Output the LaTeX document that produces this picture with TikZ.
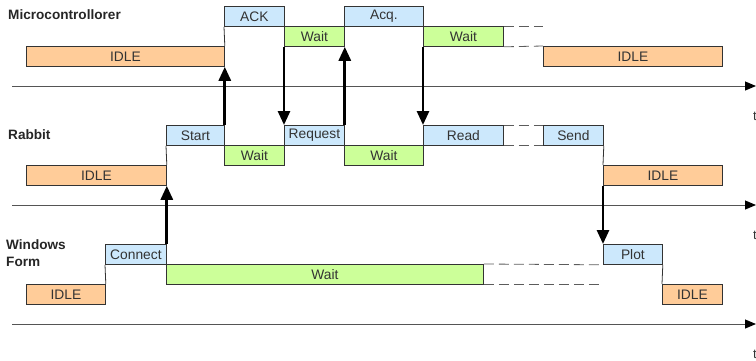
\documentclass[tikz,border=0pt]{standalone}
\usepackage{fontspec}
\setmainfont{Liberation Sans}
\usetikzlibrary{arrows.meta}
\definecolor{idlefill}{HTML}{FFCC99}
\definecolor{actfill}{HTML}{CCE8FC}
\definecolor{waitfill}{HTML}{CCFF99}
\definecolor{edge}{HTML}{333333}
\definecolor{txt}{HTML}{333333}
\definecolor{axisgray}{HTML}{555555}
\tikzset{
  seg/.style={draw=edge, line width=0.8pt, inner sep=0pt, anchor=north west,
    minimum height=20pt, text=txt, font=\fontsize{13.8}{15}\selectfont},
  idlebox/.style={seg, fill=idlefill},
  actbox/.style={seg, fill=actfill},
  waitbox/.style={seg, fill=waitfill},
  wire/.style={draw=edge, line width=0.8pt},
  pending/.style={draw=edge!80, line width=0.8pt, dash pattern=on 10pt off 5pt},
  timeaxis/.style={draw=axisgray, line width=1pt, -{Triangle[length=11pt,width=9pt,color=black]}},
  signal/.style={draw=black, line width=2.8pt, -{Triangle[length=14pt,width=12pt]}},
  lane/.style={font=\bfseries\fontsize{13.6}{17}\selectfont, text=black!85, anchor=west, inner sep=0pt, align=left},
  tlabel/.style={font=\fontsize{13}{15}\selectfont, text=txt, anchor=west, inner sep=0pt}
}
\newcommand{\stage}[7]{%
  \node[#6, minimum width=#4pt-#2pt] (#1) at (#2,#3) {#7};}
\begin{document}
\begin{tikzpicture}[x=1pt, y=-1pt]
\useasboundingbox (0,0) rectangle (756,360);

% lane titles
\node[lane] (lmc) at (8,15) {Microcontrollorer};
\node[lane] (lrab) at (8,135) {Rabbit};
\node[lane] (lwin) at (6,253) {Windows\\Form};

% time axes
\coordinate (ax1s) at (12,86);  \coordinate (ax1e) at (756,86);
\coordinate (ax2s) at (12,205); \coordinate (ax2e) at (756,205);
\coordinate (ax3s) at (12,324); \coordinate (ax3e) at (756,324);
\draw[timeaxis] (ax1s) -- (ax1e);
\draw[timeaxis] (ax2s) -- (ax2e);
\draw[timeaxis] (ax3s) -- (ax3e);
\node[tlabel] (t1) at (753,116) {t};
\node[tlabel] (t2) at (753,235) {t};
\node[tlabel] (t3) at (753,354) {t};

% microcontroller states
\stage{mcidleA}{26}{46}{224}{66}{idlebox}{IDLE}
\stage{mcack}{224}{6}{284}{26}{actbox}{ACK}
\stage{mcwaitA}{284}{26}{344}{46}{waitbox}{Wait}
\stage{mcacq}{344}{6}{423}{26}{actbox}{Acq.}
\stage{mcwaitB}{423}{26}{503}{46}{waitbox}{Wait}
\stage{mcidleB}{543}{46}{722}{66}{idlebox}{IDLE}
\draw[wire] (mcidleA.north east) -- (mcack.south west);
\draw[pending] (mcwaitB.north east) -- (mcwaitB.north east -| mcidleB.north west);
\draw[pending] (mcwaitB.south east) -- (mcidleB.north west);

% rabbit states
\stage{ridleA}{26}{165}{166}{185}{idlebox}{IDLE}
\stage{rstart}{166}{125}{224}{145}{actbox}{Start}
\stage{rwaitA}{224}{145}{284}{165}{waitbox}{Wait}
\stage{rreq}{284}{125}{344}{145}{actbox}{Request}
\stage{rwaitB}{344}{145}{423}{165}{waitbox}{Wait}
\stage{rread}{423}{125}{503}{145}{actbox}{Read}
\stage{rsend}{543}{125}{603}{145}{actbox}{Send}
\stage{ridleB}{603}{165}{722}{185}{idlebox}{IDLE}
\draw[wire] (ridleA.north east) -- (rstart.south west);
\draw[wire] (rsend.south east) -- (ridleB.north west);
\draw[pending] (rread.north east) -- (rsend.north west);
\draw[pending] (rread.south east) -- (rsend.south west);

% windows form states
\stage{widleA}{26}{284}{105}{304}{idlebox}{IDLE}
\stage{wconn}{105}{244}{166}{264}{actbox}{Connect}
\stage{wwait}{166}{264}{483}{284}{waitbox}{Wait}
\stage{wplot}{603}{244}{662}{264}{actbox}{Plot}
\stage{widleB}{662}{284}{722}{304}{idlebox}{IDLE}
\draw[wire] (widleA.north east) -- (wconn.south west);
\draw[wire] (wplot.south east) -- (widleB.north west);
\draw[pending] (wwait.north east) -- (wplot.south west);
\draw[pending] (wwait.south east) -- (wwait.south east -| wplot.south west);

% messages between lanes
\draw[signal] (rstart.north east) -- (mcidleA.south east);
\draw[signal] (mcwaitA.south west) -- (rreq.north west);
\draw[signal] (rreq.north east) -- (mcwaitA.south east);
\draw[signal] (mcwaitB.south west) -- (rread.north west);
\draw[signal] (wconn.north east) -- (ridleA.south east);
\draw[signal] (ridleB.south west) -- (wplot.north west);
\end{tikzpicture}
\end{document}
